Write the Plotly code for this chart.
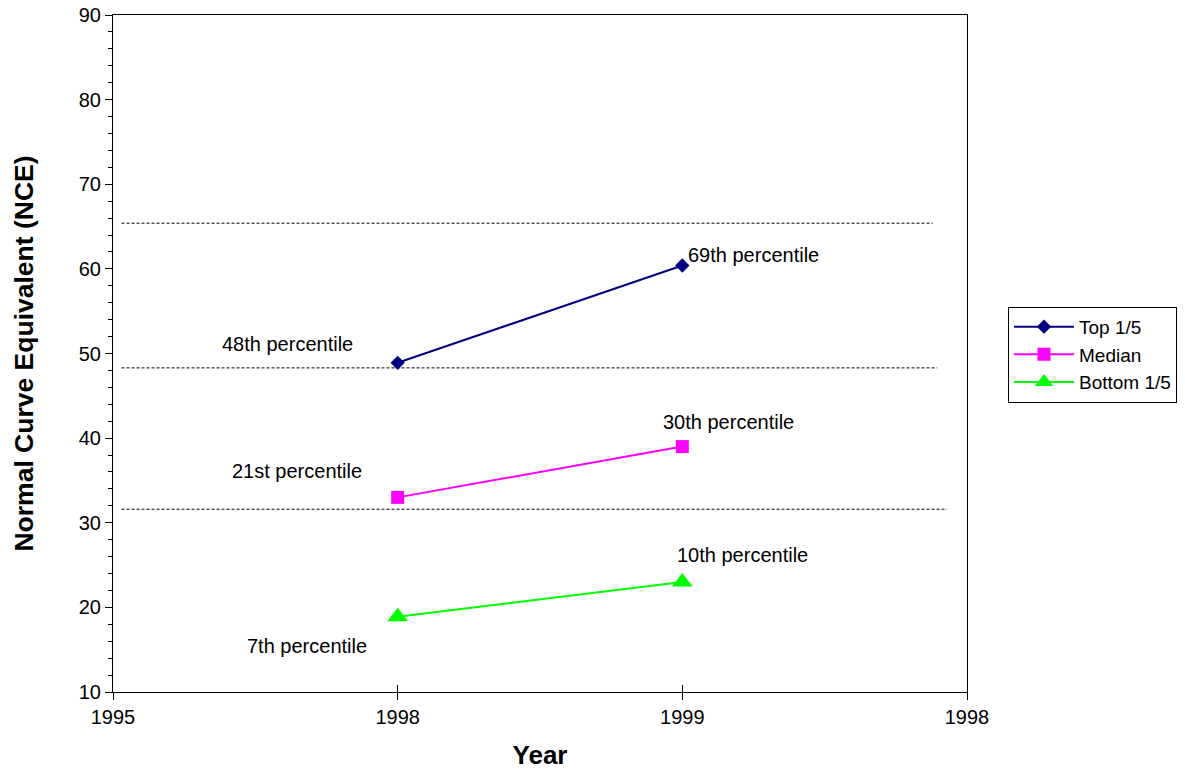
import plotly.graph_objects as go

# ---- data ----
x_positions = [0, 1, 2, 3]
x_tick_labels = ["1995", "1998", "1999", "1998"]
series_x = [1, 2]
top_fifth = [48.9, 60.4]
median = [33.0, 39.0]
bottom_fifth = [18.9, 23.0]
ref_levels = [65.4, 48.3, 31.6]
ref_x_start = [0.03, 0.03, 0.03]
ref_x_end = [2.88, 2.895, 2.93]
label_texts = ["48th percentile", "21st percentile", "7th percentile",
               "69th percentile", "30th percentile", "10th percentile"]
label_x = [0.613, 0.646, 0.680, 2.249, 2.161, 2.21]
label_y = [51.1, 36.1, 15.4, 61.6, 41.9, 26.2]

FONT = "Liberation Sans, Arial, sans-serif"

fig = go.Figure()

for lvl, xs, xe in zip(ref_levels, ref_x_start, ref_x_end):
    fig.add_trace(go.Scatter(x=[xs, xe], y=[lvl, lvl], mode="lines",
                             line=dict(color="black", width=1, dash="3px,2px"),
                             showlegend=False, hoverinfo="skip"))

fig.add_trace(go.Scatter(x=series_x, y=top_fifth, mode="lines+markers", name="Top 1/5",
                         line=dict(color="#000080", width=2),
                         marker=dict(symbol="diamond", size=11, color="#000080")))
fig.add_trace(go.Scatter(x=series_x, y=median, mode="lines+markers", name="Median",
                         line=dict(color="#FF00FF", width=2),
                         marker=dict(symbol="square", size=13, color="#FF00FF")))
fig.add_trace(go.Scatter(x=series_x, y=bottom_fifth, mode="lines+markers", name="Bottom 1/5",
                         line=dict(color="#00FF00", width=2),
                         marker=dict(symbol="triangle-up", size=18, color="#00FF00")))

# inside tick marks (cross-style ticks on x axis)
fig.add_trace(go.Scatter(x=[0, 3], y=[None, None], xaxis="x2", showlegend=False,
                         hoverinfo="skip", mode="lines"))

for t, x, y in zip(label_texts, label_x, label_y):
    fig.add_annotation(x=x, y=y, xref="x", yref="y", text=t, showarrow=False,
                       font=dict(family=FONT, size=20, color="black"))

fig.update_layout(
    width=1185, height=770,
    margin=dict(l=113, r=218, t=15, b=78, autoexpand=False),
    paper_bgcolor="white", plot_bgcolor="white",
    font=dict(family=FONT, size=20, color="black"),
    xaxis=dict(range=[0, 3], tickvals=x_positions, ticktext=x_tick_labels,
               showgrid=False, zeroline=False, showline=True, linecolor="black",
               linewidth=1, mirror=True, ticks="outside", ticklen=7, tickcolor="black",
               tickfont=dict(size=20), automargin=False, ticklabeloverflow="allow",
               title=dict(text="<b>Year</b>", font=dict(size=26), standoff=18)),
    xaxis2=dict(range=[0, 3], overlaying="x", tickvals=x_positions[1:3],
                showticklabels=False, ticks="inside", ticklen=7, tickcolor="black",
                showgrid=False, zeroline=False, showline=False, side="bottom",
                anchor="y", automargin=False),
    yaxis=dict(range=[10, 90], dtick=10, showgrid=False, zeroline=False,
               showline=True, linecolor="black", linewidth=1, mirror=True,
               ticks="outside", ticklen=7, tickcolor="black",
               tickfont=dict(size=20), automargin=False, ticklabeloverflow="allow",
               minor=dict(dtick=2, ticks="outside", ticklen=4, tickcolor="black"),
               title=dict(text="<b>Normal Curve Equivalent (NCE)</b>",
                          font=dict(size=26.5), standoff=37)),
    legend=dict(x=1.048, y=0.569, xanchor="left", yanchor="top",
                bordercolor="black", borderwidth=1, bgcolor="white",
                font=dict(size=19), itemwidth=60, tracegroupgap=0),
    showlegend=True,
)

fig.write_html("out.html", config={"displayModeBar": False},
               post_script="document.body.style.margin='0';document.body.style.padding='0';")
